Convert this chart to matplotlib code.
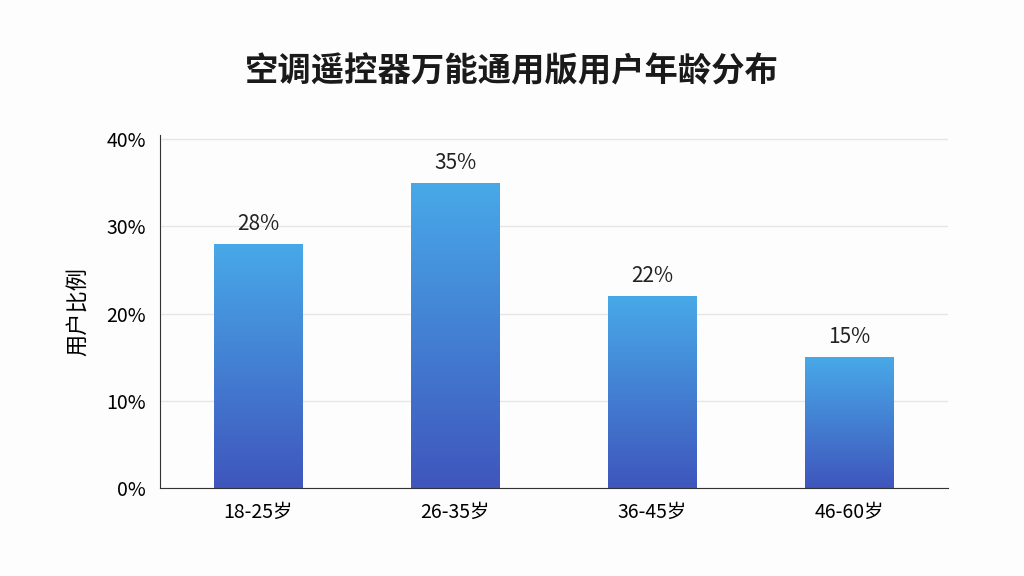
import matplotlib
matplotlib.use("Agg")
import matplotlib.pyplot as plt
import numpy as np
from matplotlib.colors import LinearSegmentedColormap

plt.rcParams['font.family'] = ['Noto Sans CJK SC', 'DejaVu Sans']

categories = ["18-25岁", "26-35岁", "36-45岁", "46-60岁"]
values = [28, 35, 22, 15]
yticks = [0, 10, 20, 30, 40]
ytick_labels = ["0%", "10%", "20%", "30%", "40%"]

fig = plt.figure(figsize=(10.24, 5.76), dpi=100)
fig.patch.set_facecolor("#fdfdfd")
ax = fig.add_axes([0.156, 0.153, 0.77, 0.613])
ax.set_facecolor("#fdfdfd")
ax.set_xlim(-0.5, 3.5)
ax.set_ylim(0, 40.5)

cmap = LinearSegmentedColormap.from_list("g", ["#3f56bd", "#48a9e8"])
grad = np.linspace(0, 1, 256).reshape(-1, 1)
w = 0.45
for i, v in enumerate(values):
    bars = ax.bar(i, v, width=w, color="none", edgecolor="none")
    im = ax.imshow(grad, cmap=cmap, aspect="auto", origin="lower",
                   extent=[i - w / 2, i + w / 2, 0, v], zorder=2)
    im.set_clip_path(bars[0])
    ax.text(i, v + 1.0, f"{v}%", ha="center", va="bottom", fontsize=15, color="#222222")

ax.set_yticks(yticks)
ax.set_yticklabels(ytick_labels, fontsize=14)
ax.set_xticks(range(len(categories)))
ax.set_xticklabels(categories, fontsize=14)
ax.tick_params(length=0, pad=10)
ax.grid(axis="y", color="#e6e6e6", linewidth=1, zorder=0)
for s in ["top", "right"]:
    ax.spines[s].set_visible(False)
ax.spines["left"].set_color("#333333")
ax.spines["bottom"].set_color("#333333")
ax.set_ylabel("用户比例", fontsize=16, labelpad=12)
fig.text(0.5, 0.875, "空调遥控器万能通用版用户年龄分布", ha="center", va="center",
         fontsize=24, fontweight="bold", color="#1a1a1a")
fig.savefig("out.png", dpi=100, facecolor=fig.get_facecolor())
